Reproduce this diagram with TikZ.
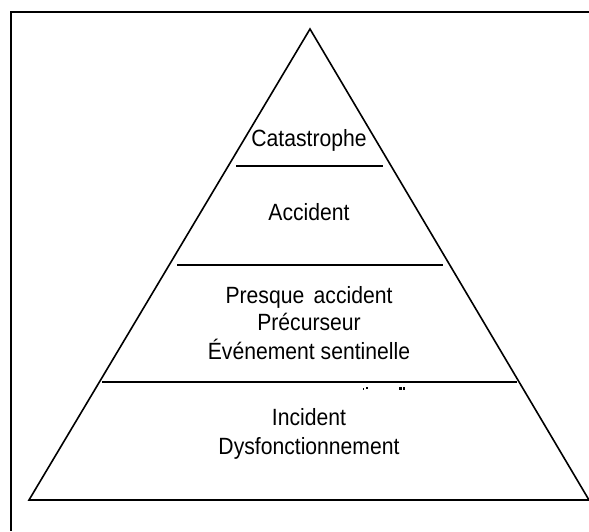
\documentclass[tikz,border=0pt]{standalone}
\usepackage{fontspec}
\setmainfont{Liberation Sans}
\begin{document}
\begin{tikzpicture}[x=1pt,y=-1pt,
  edge/.style={line width=1.6pt,line cap=round},
  tier/.style={line width=2pt},
  lbl/.style={font=\fontsize{23.5}{28}\selectfont,anchor=base,inner sep=0pt,xscale=0.9}]
\useasboundingbox (0,0) rectangle (589,531);
% open frame (top and left sides)
\draw[line width=2pt] (589,12) -- (11,12) -- (11,531);
% pyramid outline
\coordinate (apex) at (310,29);
\coordinate (bl) at (29,500);
\coordinate (br) at (589,500);
\draw[edge] (bl) -- (apex) -- (br) -- cycle;
% tier separators
\coordinate (s1a) at (236,166); \coordinate (s1b) at (383,166);
\coordinate (s2a) at (177,265); \coordinate (s2b) at (443,265);
\coordinate (s3a) at (102,382); \coordinate (s3b) at (517,382);
\draw[tier] (s1a) -- (s1b);
\draw[tier] (s2a) -- (s2b);
\draw[tier] (s3a) -- (s3b);
% tier labels
\node[lbl] (t1) at (309,146) {Catastrophe};
\node[lbl] (t2) at (309,220) {Accident};
\node[lbl] (t3a) at (309,303) {Presque\, accident};
\node[lbl] (t3b) at (309,330) {Précurseur};
\node[lbl] (t3c) at (309,359) {Événement sentinelle};
\node[lbl] (t4a) at (309,425) {Incident};
\node[lbl] (t4b) at (309,454) {Dysfonctionnement};
% small marks under the third separator
\fill (363,390) rectangle (364.2,387.5);
\fill (366,389) rectangle (367.5,386.5);
\fill (399,390) rectangle (401.5,386.5);
\fill (402.5,390) rectangle (405,386.5);
\end{tikzpicture}
\end{document}
